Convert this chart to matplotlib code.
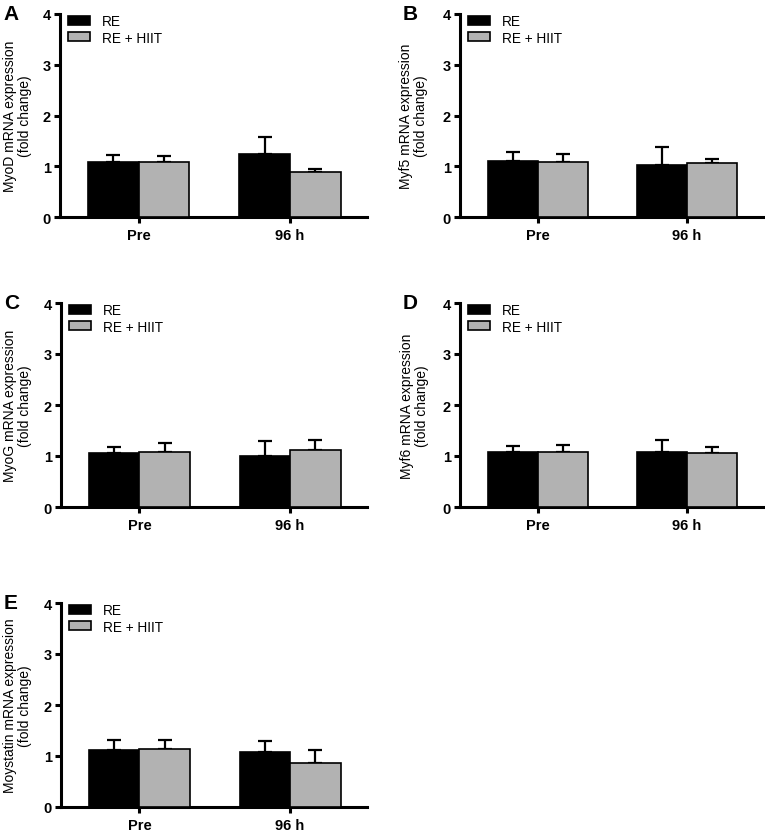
import matplotlib
matplotlib.use("Agg")
import matplotlib.pyplot as plt
import numpy as np

plt.rcParams['font.family'] = ['Liberation Sans', 'DejaVu Sans']

groups = ["Pre", "96 h"]
series = ["RE", "RE + HIIT"]
panel_letters = ["A", "B", "C", "D", "E"]
ylabels = ["MyoD mRNA expression\n(fold change)",
           "Myf5 mRNA expression\n(fold change)",
           "MyoG mRNA expression\n(fold change)",
           "Myf6 mRNA expression\n(fold change)",
           "Moystatin mRNA expression\n(fold change)"]

# mean values per group (Pre, 96 h); *_top = top of the upper error bar
myod_re = [1.075, 1.24]
myod_hiit = [1.075, 0.885]
myod_re_top = [1.23, 1.57]
myod_hiit_top = [1.21, 0.95]

myf5_re = [1.10, 1.03]
myf5_hiit = [1.08, 1.06]
myf5_re_top = [1.29, 1.37]
myf5_hiit_top = [1.25, 1.14]

myog_re = [1.06, 1.00]
myog_hiit = [1.08, 1.11]
myog_re_top = [1.17, 1.30]
myog_hiit_top = [1.26, 1.31]

myf6_re = [1.07, 1.075]
myf6_hiit = [1.075, 1.05]
myf6_re_top = [1.19, 1.32]
myf6_hiit_top = [1.22, 1.17]

mstn_re = [1.115, 1.07]
mstn_hiit = [1.13, 0.87]
mstn_re_top = [1.32, 1.30]
mstn_hiit_top = [1.32, 1.115]

data = [
    (myod_re, myod_hiit, myod_re_top, myod_hiit_top),
    (myf5_re, myf5_hiit, myf5_re_top, myf5_hiit_top),
    (myog_re, myog_hiit, myog_re_top, myog_hiit_top),
    (myf6_re, myf6_hiit, myf6_re_top, myf6_hiit_top),
    (mstn_re, mstn_hiit, mstn_re_top, mstn_hiit_top),
]

W, H = 765, 837
fig = plt.figure(figsize=(W / 100, H / 100), dpi=100)

# axes boxes in pixels: (left, top, right, bottom)
boxes = [(60, 15, 367, 218), (460, 15, 763, 218),
         (61, 304, 367, 508), (460, 304, 763, 508),
         (61, 604, 367, 808)]
label_right = [32, 428, 32, 429, 32]

colors = ["#000000", "#b2b2b2"]
bw = 0.335

for i, (l, t, r, b) in enumerate(boxes):
    ax = fig.add_axes([l / W, 1 - b / H, (r - l) / W, (b - t) / H])
    re, hiit, re_top, hiit_top = data[i]
    x = np.arange(len(groups))
    for j, (vals, tops) in enumerate([(re, re_top), (hiit, hiit_top)]):
        vals = np.array(vals)
        tops = np.array(tops)
        pos = x + (j - 0.5) * bw
        ax.bar(pos, vals, width=bw, color=colors[j], edgecolor="black",
               linewidth=1.2, label=series[j], zorder=3)
        ax.errorbar(pos, vals, yerr=[np.zeros_like(vals), tops - vals],
                    fmt="none", ecolor="black", elinewidth=1.6,
                    capsize=4.7, capthick=1.6, zorder=2)
    ax.set_xlim(-0.52, 1.51)
    ax.set_ylim(0, 4)
    ax.set_yticks([0, 1, 2, 3, 4])
    ax.set_xticks(x)
    ax.set_xticklabels(groups)
    for s in ["top", "right"]:
        ax.spines[s].set_visible(False)
    for s in ["left", "bottom"]:
        ax.spines[s].set_linewidth(2.2)
    ax.tick_params(axis="both", width=2.2, length=4.5, labelsize=10.5)
    ax.tick_params(axis="x", pad=3.5)
    ax.tick_params(axis="y", pad=2)
    for lab in ax.get_xticklabels() + ax.get_yticklabels():
        lab.set_fontweight("bold")
    ax.set_ylabel(ylabels[i], fontsize=10, linespacing=1.1)
    ax.yaxis.set_label_coords((label_right[i] - l) / (r - l), 0.5)
    ax.legend(loc="upper left",
              bbox_to_anchor=(8 / (r - l), 1.0),
              frameon=False, fontsize=9.8, handlelength=1.65,
              handleheight=0.65, labelspacing=0.2, handletextpad=0.85,
              borderpad=0, borderaxespad=0)
    fig.text((l - 57) / W, 1 - (t - 10) / H, panel_letters[i],
             fontsize=15, fontweight="bold", va="top", ha="left")

fig.savefig("out.png", dpi=100)
